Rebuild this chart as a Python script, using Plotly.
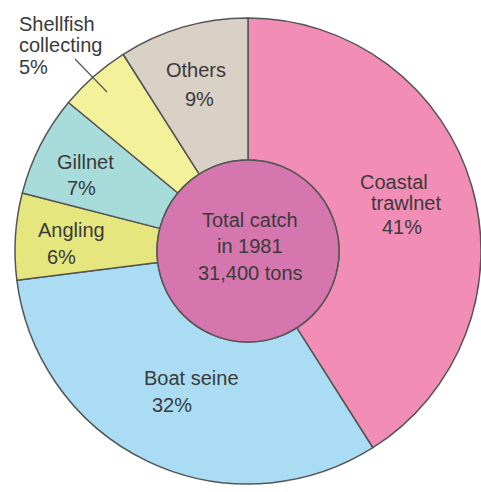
import plotly.graph_objects as go

methods = ["Coastal trawlnet", "Boat seine", "Angling", "Gillnet", "Shellfish collecting", "Others"]
shares = [41, 32, 6, 7, 5, 9]
colors = ["#F28DB5", "#AADDF3", "#E6E67E", "#A8DCDB", "#F3F29A", "#D9D0C6"]
center_lines = ["Total catch", "in 1981", "31,400 tons"]

W, H = 481, 492
cx, cy, R, r_in = 248, 251, 233, 91
FONT = "Liberation Sans, Arial, sans-serif"
TXT = "#3a3a3a"


def px(x):
    return x / W


def py(y):
    return 1 - y / H


fig = go.Figure()
fig.add_trace(go.Pie(
    labels=methods, values=shares, sort=False, direction="clockwise", rotation=0,
    marker=dict(colors=colors, line=dict(color="#555555", width=1.5)),
    hole=r_in / R, textinfo="none", hoverinfo="label+percent", showlegend=False,
    domain=dict(x=[px(cx - R), px(cx + R)], y=[py(cy + R), py(cy - R)]),
))

# label lines: (text, left x, center y)
pct = [f"{v}%" for v in shares]
label_lines = [
    ("Coastal", 358, 182), ("trawlnet", 369, 203), (pct[0], 380, 227),
    ("Boat seine", 142, 378), (pct[1], 150, 405),
    ("Angling", 36, 230), (pct[2], 45, 257),
    ("Gillnet", 55, 162), (pct[3], 65, 188),
    ("Shellfish", 17, 24), ("collecting", 17, 45), (pct[4], 17, 67),
    ("Others", 164, 70), (pct[5], 183, 99),
]
annotations = []
for t, x, y in label_lines:
    annotations.append(dict(text=t, x=px(x), y=py(y), xref="paper", yref="paper",
                            xanchor="left", yanchor="middle", showarrow=False,
                            font=dict(family=FONT, size=20, color=TXT)))
for t, y in zip(center_lines, [220, 246, 273]):
    annotations.append(dict(text=t, x=px(cx + 2), y=py(y), xref="paper", yref="paper",
                            xanchor="center", yanchor="middle", showarrow=False,
                            font=dict(family=FONT, size=20, color=TXT)))

shapes = [
    dict(type="circle", xref="paper", yref="paper",
         x0=px(cx - r_in), x1=px(cx + r_in), y0=py(cy + r_in), y1=py(cy - r_in),
         fillcolor="#D676AE", line=dict(color="#555555", width=1.5)),
    dict(type="line", xref="paper", yref="paper",
         x0=px(75), y0=py(59), x1=px(107), y1=py(92),
         line=dict(color="#555555", width=1.2)),
]

fig.update_layout(width=W, height=H, margin=dict(l=0, r=0, t=0, b=0),
                  paper_bgcolor="white", plot_bgcolor="white",
                  annotations=annotations, shapes=shapes)
fig.write_html("out.html")
